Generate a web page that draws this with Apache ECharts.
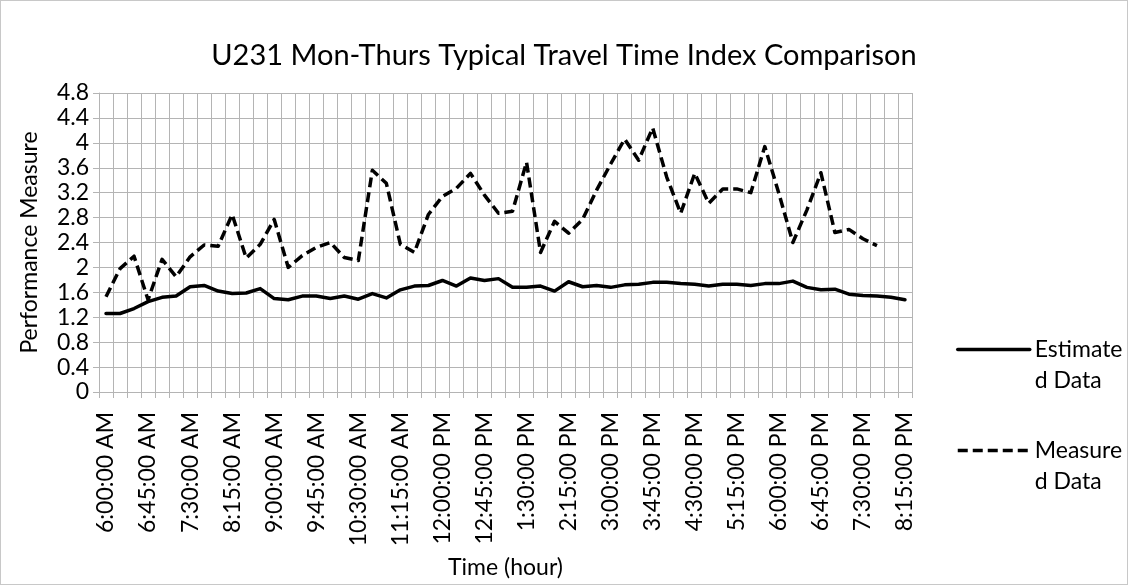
<!DOCTYPE html>
<html>
<head>
<meta charset="utf-8">
<title>U231 Mon-Thurs Typical Travel Time Index Comparison</title>
<script src="https://cdn.jsdelivr.net/npm/echarts@6/dist/echarts.min.js"></script>
<style>
  html, body { margin: 0; padding: 0; background: #ffffff; }
  #frame { width: 1128px; height: 585px; box-sizing: border-box; border: 1px solid #c8c8c8; position: relative; }
  #chart { position: absolute; left: 0; top: 0; width: 1126px; height: 583px; }
</style>
</head>
<body>
<div id="frame"><div id="chart"></div></div>
<script>
// Time of day, 15-minute bins
const timeLabels = [
  '6:00:00 AM', '6:15:00 AM', '6:30:00 AM', '6:45:00 AM',
  '7:00:00 AM', '7:15:00 AM', '7:30:00 AM', '7:45:00 AM',
  '8:00:00 AM', '8:15:00 AM', '8:30:00 AM', '8:45:00 AM',
  '9:00:00 AM', '9:15:00 AM', '9:30:00 AM', '9:45:00 AM',
  '10:00:00 AM', '10:15:00 AM', '10:30:00 AM', '10:45:00 AM',
  '11:00:00 AM', '11:15:00 AM', '11:30:00 AM', '11:45:00 AM',
  '12:00:00 PM', '12:15:00 PM', '12:30:00 PM', '12:45:00 PM',
  '1:00:00 PM', '1:15:00 PM', '1:30:00 PM', '1:45:00 PM',
  '2:00:00 PM', '2:15:00 PM', '2:30:00 PM', '2:45:00 PM',
  '3:00:00 PM', '3:15:00 PM', '3:30:00 PM', '3:45:00 PM',
  '4:00:00 PM', '4:15:00 PM', '4:30:00 PM', '4:45:00 PM',
  '5:00:00 PM', '5:15:00 PM', '5:30:00 PM', '5:45:00 PM',
  '6:00:00 PM', '6:15:00 PM', '6:30:00 PM', '6:45:00 PM',
  '7:00:00 PM', '7:15:00 PM', '7:30:00 PM', '7:45:00 PM',
  '8:00:00 PM', '8:15:00 PM'
];

// Estimated travel time index
const estimatedData = [
  1.26, 1.26, 1.34, 1.45, 1.52, 1.54, 1.69, 1.71, 1.62, 1.58,
  1.59, 1.66, 1.50, 1.48, 1.54, 1.54, 1.50, 1.54, 1.49, 1.58,
  1.51, 1.64, 1.70, 1.71, 1.79, 1.70, 1.83, 1.79, 1.82, 1.68,
  1.68, 1.70, 1.62, 1.77, 1.69, 1.71, 1.68, 1.72, 1.73, 1.76,
  1.76, 1.74, 1.73, 1.70, 1.73, 1.73, 1.71, 1.74, 1.74, 1.78,
  1.68, 1.64, 1.65, 1.57, 1.55, 1.54, 1.52, 1.48
];

// Measured travel time index (no readings after 7:45 PM)
const measuredData = [
  1.53, 1.98, 2.18, 1.48, 2.13, 1.85, 2.17, 2.36, 2.34, 2.85,
  2.15, 2.37, 2.77, 2.00, 2.19, 2.32, 2.40, 2.16, 2.11, 3.56,
  3.35, 2.37, 2.24, 2.85, 3.14, 3.27, 3.51, 3.16, 2.87, 2.90,
  3.69, 2.24, 2.74, 2.55, 2.77, 3.24, 3.66, 4.06, 3.72, 4.24,
  3.45, 2.87, 3.51, 3.03, 3.26, 3.26, 3.20, 3.94, 3.19, 2.40,
  2.92, 3.52, 2.56, 2.61, 2.46, 2.35, null, null
];

// Y axis ticks
const yTicks = [0, 0.4, 0.8, 1.2, 1.6, 2, 2.4, 2.8, 3.2, 3.6, 4, 4.4, 4.8];

const FONT = 'Lato';
const GRID_COLOR = '#b4b4b4';

const chart = echarts.init(document.getElementById('chart'), null, { renderer: 'canvas' });

chart.setOption({
  animation: false,
  backgroundColor: '#ffffff',
  title: {
    text: 'U231 Mon-Thurs Typical Travel Time Index Comparison',
    left: 'center',
    top: 35,
    textStyle: { fontFamily: FONT, fontSize: 29, fontWeight: 'normal', color: '#000000' }
  },
  legend: {
    orient: 'vertical',
    left: 950,
    top: 297,
    itemWidth: 72,
    itemHeight: 12,
    itemGap: 8,
    itemStyle: { opacity: 0, borderWidth: 0 },
    lineStyle: { opacity: 1, width: 3.5 },
    textStyle: { fontFamily: FONT, fontSize: 23, lineHeight: 31, color: '#000000' },
    formatter: function (name) {
      return ' \n' + name.replace(/d Data$/, '\nd Data');
    },
    data: ['Estimated Data', 'Measured Data']
  },
  grid: { left: 98, top: 92, width: 813, height: 303, containLabel: false },
  xAxis: {
    type: 'category',
    data: timeLabels,
    boundaryGap: true,
    name: 'Time (hour)',
    nameLocation: 'middle',
    nameGap: 164,
    nameTextStyle: { fontFamily: FONT, fontSize: 23, color: '#000000' },
    axisLine: { show: true, lineStyle: { color: GRID_COLOR, width: 1 } },
    axisTick: { show: true, interval: 0, length: 6, lineStyle: { color: GRID_COLOR } },
    splitLine: { show: true, interval: 0, lineStyle: { color: GRID_COLOR, width: 1 } },
    axisLabel: {
      interval: 2,
      rotate: 90,
      margin: 20,
      fontFamily: FONT,
      fontSize: 23,
      color: '#000000'
    }
  },
  yAxis: {
    type: 'value',
    min: yTicks[0],
    max: yTicks[yTicks.length - 1],
    interval: yTicks[1] - yTicks[0],
    name: 'Performance Measure',
    nameLocation: 'middle',
    nameGap: 58,
    nameTextStyle: { fontFamily: FONT, fontSize: 23, color: '#000000' },
    axisLine: { show: true, lineStyle: { color: GRID_COLOR, width: 1 } },
    axisTick: { show: true, length: 6, lineStyle: { color: GRID_COLOR } },
    splitLine: { show: true, lineStyle: { color: GRID_COLOR, width: 1 } },
    axisLabel: {
      margin: 10,
      fontFamily: FONT,
      fontSize: 23,
      color: '#000000',
      formatter: function (v) { return String(Math.round(v * 10) / 10); }
    }
  },
  series: [
    {
      name: 'Estimated Data',
      type: 'line',
      data: estimatedData,
      symbol: 'none',
      showSymbol: false,
      smooth: false,
      lineStyle: { color: '#000000', width: 3.5, type: 'solid', join: 'round', cap: 'round' },
      itemStyle: { color: '#000000' },
      z: 3
    },
    {
      name: 'Measured Data',
      type: 'line',
      data: measuredData,
      symbol: 'none',
      showSymbol: false,
      smooth: false,
      connectNulls: false,
      lineStyle: { color: '#000000', width: 3.5, type: [10, 5], join: 'round' },
      itemStyle: { color: '#000000' },
      z: 3
    }
  ]
});
</script>
</body>
</html>
